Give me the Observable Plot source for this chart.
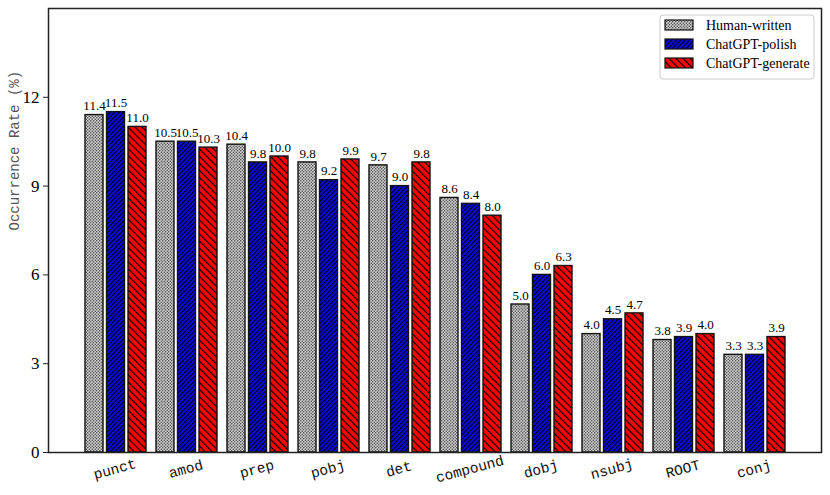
<!DOCTYPE html>
<html>
<head>
<meta charset="utf-8">
<script src="https://cdn.jsdelivr.net/npm/d3@7"></script>
<script src="https://cdn.jsdelivr.net/npm/@observablehq/plot@0.6"></script>
<style>
  html, body { margin: 0; padding: 0; background: #fff; }
  #chart { position: relative; width: 830px; height: 495px; }
</style>
</head>
<body>
<div id="chart"></div>
<script>
const categories = ["punct","amod","prep","pobj","det","compound","dobj","nsubj","ROOT","conj"];
const seriesNames = ["Human-written","ChatGPT-polish","ChatGPT-generate"];
const human    = [11.4,10.5,10.4,9.8,9.7,8.6,5.0,4.0,3.8,3.3];
const polish   = [11.5,10.5,9.8,9.2,9.0,8.4,6.0,4.5,3.9,3.3];
const generate = [11.0,10.3,10.0,9.9,9.8,8.0,6.3,4.7,4.0,3.9];
const yTicks = [0,3,6,9,12];

const seriesValues = [human, polish, generate];
const patternIds = ["pat-dots","pat-polish","pat-generate"];

const step = 21.5; // px between bar starts within a group
const barMarks = [];
const labelMarks = [];
seriesValues.forEach((vals, i) => {
  const rows = categories.map((c, j) => ({cat: c, value: vals[j]}));
  barMarks.push(Plot.barY(rows, {
    x: "cat", y: "value",
    insetLeft: i * step, insetRight: (2 - i) * step,
    fill: `url(#${patternIds[i]})`,
    stroke: "#111", strokeWidth: 1.4
  }));
  labelMarks.push(Plot.text(rows, {
    x: "cat", y: "value", text: d => d.value.toFixed(1),
    dx: (i - 1) * step, dy: -9,
    fontFamily: "Liberation Serif", fontSize: 13, fill: "#000"
  }));
});

const plot = Plot.plot({
  width: 830, height: 495,
  marginLeft: 48, marginRight: 9, marginTop: 8, marginBottom: 43,
  style: {background: "#fff", fontFamily: "Liberation Serif", color: "#000"},
  x: {type: "band", domain: categories, paddingInner: 0.146, paddingOuter: 0.486, axis: null},
  y: {domain: [0, 15], axis: null},
  marks: [
    ...barMarks,
    ...labelMarks,
    Plot.axisY({ticks: yTicks, tickSize: 5, tickFormat: () => "", label: null, stroke: "#222"}),
    Plot.text(yTicks, {y: d => d, frameAnchor: "left", dx: -9, textAnchor: "end",
      text: d => String(d), fontFamily: "Liberation Serif", fontSize: 17, fill: "#000"}),
    Plot.text(categories, {x: d => d, frameAnchor: "bottom", dy: 21, rotate: -15,
      text: d => d, fontFamily: "Liberation Mono", fontSize: 14.5, fill: "#111"}),
    Plot.text(["Occurrence Rate (%)"], {frameAnchor: "left", dx: -34, rotate: -90,
      text: d => d, fontFamily: "Liberation Mono", fontSize: 14, fill: "#555"}),
    Plot.frame({stroke: "#222", strokeWidth: 1.5})
  ]
});

document.getElementById("chart").appendChild(plot);

// patterns
const svg = d3.select(plot);
const defs = svg.insert("defs", ":first-child");
const p1 = defs.append("pattern").attr("id", "pat-dots").attr("patternUnits", "userSpaceOnUse")
  .attr("width", 3).attr("height", 3);
p1.append("rect").attr("width", 3).attr("height", 3).attr("fill", "#d0d0d0");
p1.append("circle").attr("cx", 0.75).attr("cy", 0.75).attr("r", 0.7).attr("fill", "#333");
p1.append("circle").attr("cx", 2.25).attr("cy", 2.25).attr("r", 0.7).attr("fill", "#333");

const p2 = defs.append("pattern").attr("id", "pat-polish").attr("patternUnits", "userSpaceOnUse")
  .attr("width", 3.2).attr("height", 3.2).attr("patternTransform", "rotate(45)");
p2.append("rect").attr("width", 3.2).attr("height", 3.2).attr("fill", "#0a0ad8");
p2.append("line").attr("x1", 0.5).attr("y1", 0).attr("x2", 0.5).attr("y2", 3.2)
  .attr("stroke", "#000").attr("stroke-width", 1);

const p3 = defs.append("pattern").attr("id", "pat-generate").attr("patternUnits", "userSpaceOnUse")
  .attr("width", 5).attr("height", 5).attr("patternTransform", "rotate(-45)");
p3.append("rect").attr("width", 5).attr("height", 5).attr("fill", "#ff0000");
p3.append("line").attr("x1", 0.6).attr("y1", 0).attr("x2", 0.6).attr("y2", 5)
  .attr("stroke", "#000").attr("stroke-width", 1.2);

// legend
const lg = svg.append("g").attr("transform", "translate(660,15)");
lg.append("rect").attr("width", 154).attr("height", 64).attr("rx", 3)
  .attr("fill", "#fff").attr("stroke", "#ccc").attr("stroke-width", 1);
seriesNames.forEach((name, i) => {
  const y = 10 + i * 19;
  lg.append("rect").attr("x", 5).attr("y", y - 5).attr("width", 28).attr("height", 10)
    .attr("fill", `url(#${patternIds[i]})`).attr("stroke", "#111").attr("stroke-width", 1.2);
  lg.append("text").attr("x", 46).attr("y", y).attr("dy", "0.35em")
    .style("text-anchor", "start").style("font-family", "Liberation Serif")
    .style("font-size", "14px").attr("fill", "#000").text(name);
});
</script>
</body>
</html>
